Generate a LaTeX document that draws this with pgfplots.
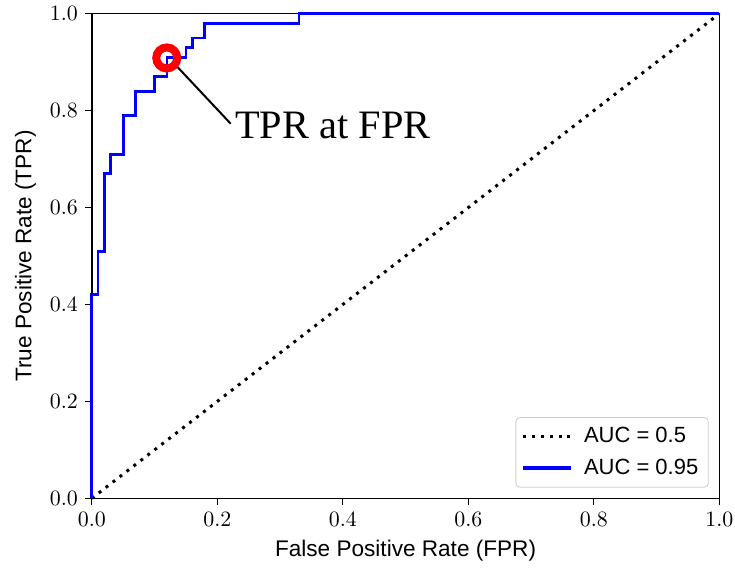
\documentclass[border={4.2pt 0pt -2.5pt 0pt}]{standalone}
\usepackage{fontspec}
\setmainfont{Liberation Serif}
\newfontfamily\sansfont{Liberation Sans}
\usepackage{pgfplots}
\pgfplotsset{compat=1.18}
\begin{document}
\begin{tikzpicture}
\begin{axis}[
  scale only axis, width=314pt, height=242.5pt,
  xmin=0, xmax=1, ymin=0, ymax=1,
  xtick={0,0.2,0.4,0.6,0.8,1.0}, ytick={0,0.2,0.4,0.6,0.8,1.0},
  tick align=outside, tick pos=left, major tick length=3.5pt,
  every tick/.style={black, line width=0.6pt},
  axis line style={line width=0.75pt},
  ticklabel style={font=\fontsize{11}{13}\selectfont},
  xticklabel style={/pgf/number format/.cd, fixed, fixed zerofill, precision=1},
  yticklabel style={/pgf/number format/.cd, fixed, fixed zerofill, precision=1},
  xlabel={False Positive Rate (FPR)}, ylabel={True Positive Rate (TPR)},
  label style={font=\sansfont\fontsize{11.3}{13}\selectfont},
  legend style={at={(0.983,0.022)}, anchor=south east, draw=black!20, rounded corners=2pt,
    fill=white, font=\sansfont\fontsize{11}{13}\selectfont, inner xsep=3pt, inner ysep=3pt,
    row sep=2.5pt, column sep=3.5pt},
  legend cell align=left,
  legend image code/.code={\draw[#1] (0pt,0pt) -- (24pt,0pt);},
  clip=false,
]
\addplot[black, line width=1.5pt, dash pattern=on 1.5pt off 2.9pt] coordinates {(0,0) (1,1)};
\addlegendentry{AUC = 0.5}
\addplot[blue, line width=1.35pt, legend image post style={line width=1.6pt}] coordinates {
(0,0) (0,0.42) (0.01,0.42) (0.01,0.51) (0.02,0.51) (0.02,0.67) (0.03,0.67) (0.03,0.71)
(0.05,0.71) (0.05,0.79) (0.07,0.79) (0.07,0.84) (0.10,0.84) (0.10,0.87) (0.12,0.87)
(0.12,0.91) (0.15,0.91) (0.15,0.93) (0.16,0.93) (0.16,0.95) (0.18,0.95) (0.18,0.98)
(0.33,0.98) (0.33,1.0) (1,1)};
\addlegendentry{AUC = 0.95}
\addplot[black, line width=1pt, forget plot] coordinates {(0.1365,0.890) (0.2213,0.773)};
\addplot[red, line width=4pt, only marks, mark=o, mark size=5.25pt, forget plot] coordinates {(0.1194,0.9087)};
\node[anchor=base west, inner sep=0pt, font=\fontsize{20.2}{24}\selectfont] at (axis cs:0.228,0.742) {TPR at FPR};
\end{axis}
\end{tikzpicture}
\end{document}
